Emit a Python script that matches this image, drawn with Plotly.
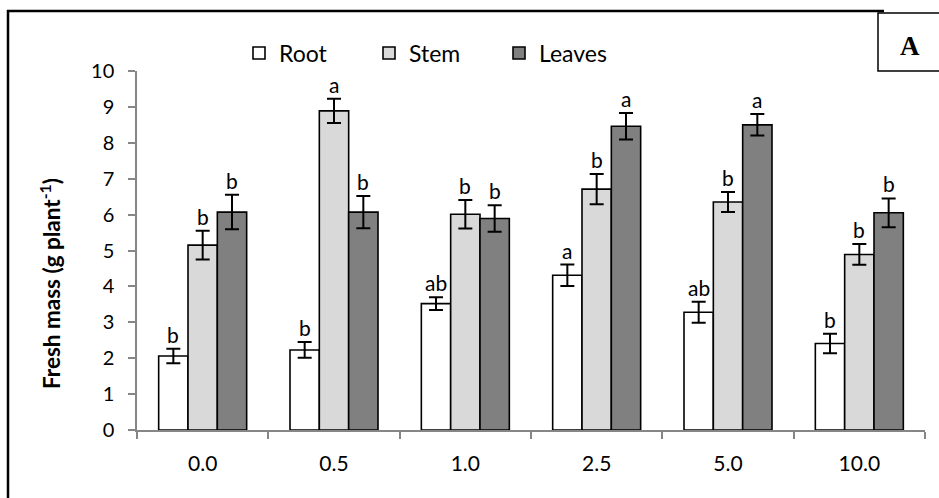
import plotly.graph_objects as go

categories = ["0.0", "0.5", "1.0", "2.5", "5.0", "10.0"]
root = [2.06, 2.23, 3.52, 4.31, 3.28, 2.41]
root_err = [0.20, 0.22, 0.18, 0.30, 0.29, 0.27]
root_sig = ["b", "b", "ab", "a", "ab", "b"]
stem = [5.15, 8.89, 6.01, 6.71, 6.35, 4.89]
stem_err = [0.40, 0.34, 0.40, 0.42, 0.28, 0.29]
stem_sig = ["b", "a", "b", "b", "b", "b"]
leaves = [6.07, 6.07, 5.89, 8.46, 8.50, 6.05]
leaves_err = [0.48, 0.45, 0.37, 0.37, 0.30, 0.40]
leaves_sig = ["b", "b", "b", "a", "a", "b"]

W, H = 939, 498
ML, MR, MT, MB = 137, 14, 71, 68
PW = W - ML - MR
PH = H - MT - MB
BARGAP = 0.33
FONT = "Lato"

series = [
    ("Root", root, root_err, root_sig, "#ffffff"),
    ("Stem", stem, stem_err, stem_sig, "#d9d9d9"),
    ("Leaves", leaves, leaves_err, leaves_sig, "#808080"),
]

fig = go.Figure()
for name, vals, errs, _, color in series:
    fig.add_trace(go.Bar(
        name=name, x=categories, y=vals,
        marker=dict(color=color, line=dict(color="black", width=1.6)),
        error_y=dict(type="data", array=errs, visible=True,
                     color="black", thickness=2, width=7),
    ))

cat_w = PW / len(categories)
bar_w = cat_w * (1 - BARGAP) / len(series)
annotations = []
for i, (name, vals, errs, sigs, _) in enumerate(series):
    shift = (i - (len(series) - 1) / 2) * bar_w
    for k, (v, e, s) in enumerate(zip(vals, errs, sigs)):
        annotations.append(dict(
            x=k, y=v + e, text=s, showarrow=False, xref="x", yref="y",
            xshift=shift, xanchor="center", yanchor="bottom", yshift=0,
            font=dict(family=FONT, size=21, color="black"),
        ))

def px_x(p):
    return (p - ML) / PW

def px_y(p):
    return (H - MB - p) / PH

annotations.append(dict(
    x=px_x(50), y=px_y(284), xref="paper", yref="paper",
    xanchor="center", yanchor="middle",
    text="<b>Fresh mass (g plant<sup>-1</sup>)</b>", textangle=-90,
    showarrow=False, font=dict(family=FONT, size=22.5, color="black"),
))
annotations.append(dict(
    x=px_x(910), y=px_y(46), xref="paper", yref="paper",
    xanchor="center", yanchor="middle",
    text="<b>A</b>", showarrow=False,
    font=dict(family="Liberation Serif", size=27, color="black"),
))

shapes = [
    dict(type="line", xref="paper", yref="paper", x0=px_x(8), x1=px_x(8),
         y0=px_y(10), y1=px_y(510), line=dict(color="black", width=2.5)),
    dict(type="line", xref="paper", yref="paper", x0=px_x(7), x1=px_x(884),
         y0=px_y(11), y1=px_y(11), line=dict(color="black", width=2.5)),
    dict(type="rect", xref="paper", yref="paper", x0=px_x(878), x1=px_x(950),
         y0=px_y(13), y1=px_y(71), line=dict(color="black", width=1.5),
         fillcolor="white"),
]

fig.update_layout(
    width=W, height=H,
    margin=dict(l=ML, r=MR, t=MT, b=MB, pad=0),
    paper_bgcolor="white", plot_bgcolor="white",
    barmode="group", bargap=BARGAP, bargroupgap=0,
    font=dict(family=FONT, size=20, color="black"),
    showlegend=True,
    legend=dict(orientation="h", x=px_x(239), y=px_y(53), xanchor="left",
                yanchor="middle", font=dict(family=FONT, size=23),
                entrywidth=85, entrywidthmode="pixels",
                bgcolor="rgba(0,0,0,0)", itemclick=False),
    annotations=annotations,
    shapes=shapes,
)
fig.update_xaxes(
    type="category", range=[-0.5, len(categories) - 0.5],
    showline=True, linecolor="#868686", linewidth=1.5,
    ticks="outside", tickson="boundaries", ticklen=7, tickcolor="#868686",
    tickwidth=1.5, showgrid=False, ticklabelstandoff=14,
    tickfont=dict(family=FONT, size=21),
)
fig.update_yaxes(
    range=[0, 10], dtick=1, showline=True, linecolor="#868686", linewidth=1.5,
    ticks="outside", ticklen=7, tickcolor="#868686", tickwidth=1.5,
    showgrid=False, zeroline=False, ticklabelstandoff=10,
    tickfont=dict(family=FONT, size=20),
)

fig.write_html("out.html")
